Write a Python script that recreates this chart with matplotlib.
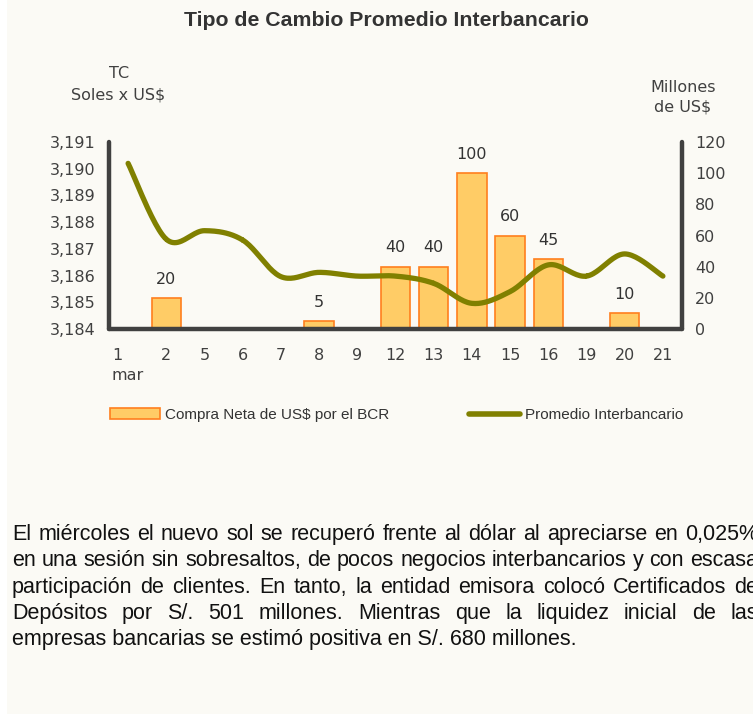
import numpy as np
import matplotlib
matplotlib.use("Agg")
import matplotlib.pyplot as plt
from matplotlib.patches import Patch, Rectangle
from matplotlib.lines import Line2D
from matplotlib.ticker import FuncFormatter

plt.rcParams["font.family"] = ["DejaVu Sans"]

# data
days = ["1", "2", "5", "6", "7", "8", "9", "12", "13", "14", "15", "16", "19", "20", "21"]
compra = [0, 20, 0, 0, 0, 5, 0, 40, 40, 100, 60, 45, 0, 10, 0]
tc = [3.19020, 3.18736, 3.18768, 3.18733, 3.18596, 3.18612, 3.18598, 3.18598,
      3.18571, 3.18496, 3.18540, 3.18640, 3.18598, 3.18681, 3.18598]
bar_labels = {1: "20", 5: "5", 7: "40", 8: "40", 9: "100", 10: "60", 11: "45", 13: "10"}

parrafo = [
    "El miércoles el nuevo sol se recuperó frente al dólar al apreciarse en 0,025%",
    "en una sesión sin sobresaltos, de pocos negocios interbancarios y con escasa",
    "participación de clientes. En tanto, la entidad emisora colocó Certificados de",
    "Depósitos por S/. 501 millones. Mientras que la liquidez inicial de las",
    "empresas bancarias se estimó positiva en S/. 680 millones.",
]

BG = "#FBFAF5"
GRIS = "#404040"
W, H = 753, 716
FS = 11.5


def catmull(x, y, n=24):
    # curva suavizada tipo Excel
    x = np.asarray(x, float)
    y = np.asarray(y, float)
    px = np.concatenate([[x[0]], x, [x[-1]]])
    py = np.concatenate([[y[0]], y, [y[-1]]])
    t = np.linspace(0, 1, n)[:, None]
    xs, ys = [], []
    for i in range(1, len(px) - 2):
        for p, out in ((px, xs), (py, ys)):
            p0, p1, p2, p3 = p[i - 1], p[i], p[i + 1], p[i + 2]
            v = 0.5 * ((2 * p1) + (-p0 + p2) * t + (2 * p0 - 5 * p1 + 4 * p2 - p3) * t ** 2
                       + (-p0 + 3 * p1 - 3 * p2 + p3) * t ** 3)
            out.append(v.ravel())
    return np.concatenate(xs), np.concatenate(ys)


fig = plt.figure(figsize=(W / 100, H / 100), dpi=100, facecolor="white")
fig.patches.append(Rectangle((7 / W, 2 / H), 1, 1, transform=fig.transFigure,
                             facecolor=BG, edgecolor="none", zorder=-10))

ax = fig.add_axes([109 / W, 1 - 329 / H, (682 - 109) / W, (329 - 142) / H])
ax.patch.set_visible(False)
x = np.arange(len(days))
ax.bar(x, compra, width=0.77, color="#FFCC66", edgecolor="#FF7F1E", linewidth=1.2, zorder=2)
for i, lab in bar_labels.items():
    ax.annotate(lab, (x[i], compra[i]), xytext=(0, 13.5), textcoords="offset points",
                ha="center", va="center", fontsize=FS, color="#333333")
ax.set_ylim(0, 120)
ax.set_xlim(-0.5, len(days) - 0.5)
ax.set_yticks([0, 20, 40, 60, 80, 100, 120])
ax.set_xticks(x)
ax.set_xticklabels(["1\nmar"] + days[1:])
lbl0 = ax.get_xticklabels()[0]
lbl0.set_multialignment("left")
lbl0.set_linespacing(1.4)
for s in ("left", "right", "bottom"):
    ax.spines[s].set_color(GRIS)
    ax.spines[s].set_linewidth(3.2)
    ax.spines[s].set_capstyle("round")
ax.spines["top"].set_visible(False)

ax2 = ax.twinx()
ax2.set_ylim(3.184, 3.191)
ax2.set_yticks(np.arange(3.184, 3.1915, 0.001))
ax2.yaxis.set_major_formatter(FuncFormatter(lambda v, p: f"{v:.3f}".replace(".", ",")))
ax2.yaxis.tick_left()
ax2.tick_params(axis="y", length=0, pad=9.5, labelsize=FS, labelcolor=GRIS)
for s in ax2.spines.values():
    s.set_visible(False)
sx, sy = catmull(x, tc)
ax2.plot(sx, sy, color="#808000", linewidth=3.8, solid_capstyle="round", zorder=3)

# barras: escala a la derecha
ax.yaxis.tick_right()
ax.tick_params(axis="y", length=0, pad=9.5, labelsize=FS, labelcolor=GRIS)
ax.tick_params(axis="x", length=0, pad=14, labelsize=FS, labelcolor=GRIS)

# titulos
fig.text(386 / W, 1 - 20 / H, "Tipo de Cambio Promedio Interbancario", ha="center", va="center",
         fontsize=15.3, fontweight="bold", color="#333333", family="Liberation Sans")
fig.text(119 / W, 1 - 73 / H, "TC", ha="center", va="center", fontsize=FS, color=GRIS)
fig.text(118 / W, 1 - 95 / H, "Soles x US$", ha="center", va="center", fontsize=FS, color=GRIS)
fig.text(683 / W, 1 - 87 / H, "Millones", ha="center", va="center", fontsize=FS, color=GRIS)
fig.text(683 / W, 1 - 107 / H, "de US$", ha="center", va="center", fontsize=FS, color=GRIS)

# leyenda
handles = [Patch(facecolor="#FFCC66", edgecolor="#FF7F1E", linewidth=1.2),
           Line2D([], [], color="#808000", linewidth=4, solid_capstyle="round")]
fig.legend(handles, ["Compra Neta de US$ por el BCR", "Promedio Interbancario"],
           loc="center left", bbox_to_anchor=(110 / W, 1 - 415 / H), ncol=2, frameon=False,
           prop={"family": "Liberation Sans", "size": 11},
           handlelength=3.3, handleheight=0.78, handletextpad=0.33, columnspacing=5.2,
           borderpad=0, borderaxespad=0, labelcolor="#333333")

# parrafo justificado
renderer = fig.canvas.get_renderer()
left, right = 12, 758
for k, linea in enumerate(parrafo):
    yb = 1 - (540 + 26.3 * k) / H
    if k == len(parrafo) - 1:
        fig.text(left / W, yb, linea, ha="left", va="baseline", fontsize=15.5,
                 family="Liberation Sans", color="#111111")
        continue
    palabras = linea.split(" ")
    objs = [fig.text(0, yb, p, ha="left", va="baseline", fontsize=15.5,
                     family="Liberation Sans", color="#111111") for p in palabras]
    anchos = [o.get_window_extent(renderer).width for o in objs]
    gap = (right - left - sum(anchos)) / (len(palabras) - 1)
    pos = left
    for o, a in zip(objs, anchos):
        o.set_x(pos / W)
        pos += a + gap

fig.savefig("out.png", dpi=100, facecolor=fig.get_facecolor())
